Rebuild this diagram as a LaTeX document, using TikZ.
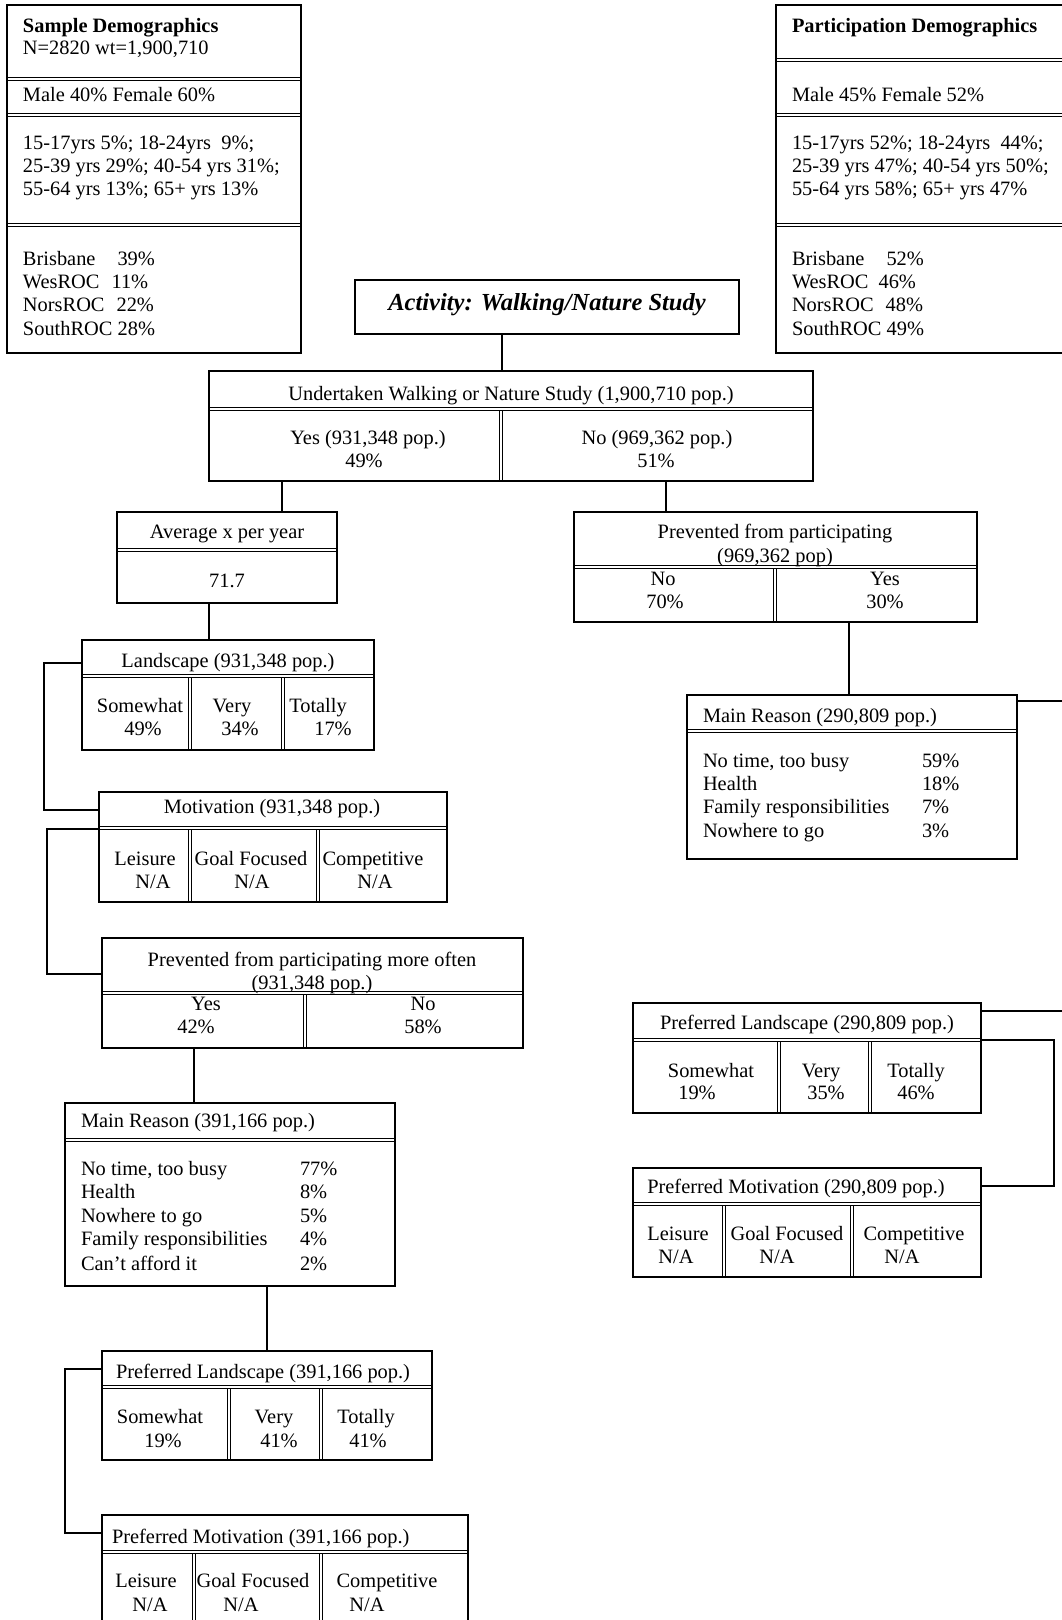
\documentclass[tikz,border=0pt]{standalone}
\usepackage{fontspec}
\setmainfont{Liberation Serif}
\newcommand\dblH[3]{\draw[dsep] (#1,#3) -- (#2,#3) (#1,#3+3.4) -- (#2,#3+3.4);}
\newcommand\dblV[3]{\draw[dsep] (#1,#2) -- (#1,#3) (#1+3.4,#2) -- (#1+3.4,#3);}
\newcommand\txtL[4]{\node[txt,anchor=base west] (#1) at (#2,#3) {#4};}
\newcommand\txtC[4]{\node[txt,anchor=base] (#1) at (#2,#3) {#4};}
\tikzset{
  box/.style={draw=black, line width=1.1pt, inner sep=0pt, outer sep=0pt, anchor=north west},
  dsep/.style={draw=black, line width=0.9pt},
  conn/.style={draw=black, line width=1.1pt},
  txt/.style={inner sep=0pt, outer sep=0pt, font=\fontsize{20.4}{23.5}\selectfont},
  ttl/.style={inner sep=0pt, outer sep=0pt, anchor=base, font=\fontsize{24.5}{28}\selectfont\bfseries\itshape}
}
\begin{document}
\begin{tikzpicture}[x=1pt,y=-1pt]
\useasboundingbox (0,0) rectangle (1062,1620);
\clip (0,0) rectangle (1062,1620);
\fill[white] (0,0) rectangle (1062,1620);

% ---------- boxes ----------
\node[box, minimum width=294pt, minimum height=348pt] (sd) at (7,5) {};
\node[box, minimum width=300pt, minimum height=348pt] (pd) at (776,5) {};
\node[box, minimum width=384pt, minimum height=54pt] (title) at (355,280) {};
\node[box, minimum width=604pt, minimum height=110pt] (und) at (209,371) {};
\node[box, minimum width=220pt, minimum height=91pt] (avg) at (117,512) {};
\node[box, minimum width=292pt, minimum height=110pt] (land) at (82,640) {};
\node[box, minimum width=348pt, minimum height=110pt] (mot) at (99,792) {};
\node[box, minimum width=421pt, minimum height=110pt] (pmo) at (102,938) {};
\node[box, minimum width=330pt, minimum height=183pt] (mr2) at (65,1103) {};
\node[box, minimum width=330pt, minimum height=109pt] (pl2) at (102,1351) {};
\node[box, minimum width=366pt, minimum height=115pt] (pm2) at (102,1515) {};
\node[box, minimum width=403pt, minimum height=110pt] (prv) at (574,512) {};
\node[box, minimum width=330pt, minimum height=164pt] (mr1) at (687,695) {};
\node[box, minimum width=348pt, minimum height=110pt] (pl1) at (633,1003) {};
\node[box, minimum width=348pt, minimum height=109pt] (pm1) at (633,1168) {};

% ---------- double separators ----------
\dblH{7}{301}{77} \dblH{7}{301}{113} \dblH{7}{301}{223}
\dblH{776}{1076}{58} \dblH{776}{1076}{113} \dblH{776}{1076}{223}
\dblH{209}{813}{407} \dblV{499}{410}{481}
\dblH{117}{337}{548}
\dblH{82}{374}{674} \dblV{188}{677}{750} \dblV{281}{677}{750}
\dblH{99}{447}{826} \dblV{188}{829}{902} \dblV{316}{829}{902}
\dblH{102}{523}{991} \dblV{303}{994}{1048}
\dblH{65}{395}{1138}
\dblH{102}{432}{1385} \dblV{227}{1388}{1460} \dblV{319}{1388}{1460}
\dblH{102}{468}{1550} \dblV{192}{1553}{1630} \dblV{319}{1553}{1630}
\dblH{574}{977}{565} \dblV{773}{568}{622}
\dblH{687}{1017}{729}
\dblH{633}{981}{1038} \dblV{777}{1041}{1113} \dblV{868}{1041}{1113}
\dblH{633}{981}{1202} \dblV{722}{1205}{1277} \dblV{850}{1205}{1277}

% ---------- Sample Demographics ----------
\txtL{s1}{23}{32}{\bfseries Sample Demographics}
\txtL{s2}{23}{54}{N=2820 wt=1,900,710}
\txtL{s3}{23}{101}{Male 40\% Female 60\%}
\txtL{s4}{23}{149}{15-17yrs 5\%; 18-24yrs\ \ 9\%;}
\txtL{s5}{23}{172}{25-39 yrs 29\%; 40-54 yrs 31\%;}
\txtL{s6}{23}{195}{55-64 yrs 13\%; 65+ yrs 13\%}
\txtL{s7}{23}{265}{Brisbane\hspace{22pt}39\%}
\txtL{s8}{23}{288}{WesROC\hspace{12pt}11\%}
\txtL{s9}{23}{311}{NorsROC\hspace{12pt}22\%}
\txtL{s10}{23}{335}{SouthROC 28\%}

% ---------- Participation Demographics ----------
\txtL{p1}{792}{32}{\bfseries Participation Demographics}
\txtL{p2}{792}{101}{Male 45\% Female 52\%}
\txtL{p3}{792}{149}{15-17yrs 52\%; 18-24yrs\ \ 44\%;}
\txtL{p4}{792}{172}{25-39 yrs 47\%; 40-54 yrs 50\%;}
\txtL{p5}{792}{195}{55-64 yrs 58\%; 65+ yrs 47\%}
\txtL{p6}{792}{265}{Brisbane\hspace{22pt}52\%}
\txtL{p7}{792}{288}{WesROC\hspace{10pt}46\%}
\txtL{p8}{792}{311}{NorsROC\hspace{12pt}48\%}
\txtL{p9}{792}{335}{SouthROC 49\%}

% ---------- title ----------
\node[ttl] (ttxt) at (547,310) {Activity: Walking/Nature Study};

% ---------- Undertaken ----------
\txtC{u0}{511}{400}{Undertaken Walking or Nature Study (1,900,710 pop.)}
\txtC{u1}{368}{444}{Yes (931,348 pop.)}
\txtC{u2}{364}{467}{49\%}
\txtC{u3}{657}{444}{No (969,362 pop.)}
\txtC{u4}{656}{467}{51\%}

% ---------- Average ----------
\txtC{a1}{227}{538}{Average x per year}
\txtC{a2}{227}{587}{71.7}

% ---------- Landscape ----------
\txtC{l0}{228}{667}{Landscape (931,348 pop.)}
\txtC{l1}{140}{712}{Somewhat}
\txtC{l2}{143}{735}{49\%}
\txtC{l3}{232}{712}{Very}
\txtC{l4}{240}{735}{34\%}
\txtC{l5}{318}{712}{Totally}
\txtC{l6}{333}{735}{17\%}

% ---------- Motivation ----------
\txtC{m0}{272}{813}{Motivation (931,348 pop.)}
\txtC{m1}{145}{865}{Leisure}
\txtC{m2}{153}{888}{N/A}
\txtC{m3}{251}{865}{Goal Focused}
\txtC{m4}{252}{888}{N/A}
\txtC{m5}{373}{865}{Competitive}
\txtC{m6}{375}{888}{N/A}

% ---------- Prevented more often ----------
\txtC{q0}{312}{966}{Prevented from participating more often}
\txtC{q1}{312}{989}{(931,348 pop.)}
\txtC{q2}{206}{1010}{Yes}
\txtC{q3}{196}{1033}{42\%}
\txtC{q4}{423}{1010}{No}
\txtC{q5}{423}{1033}{58\%}

% ---------- Main Reason (391,166) ----------
\txtL{r0}{81}{1127}{Main Reason (391,166 pop.)}
\txtL{r1}{81}{1175}{No time, too busy}
\txtL{r2}{81}{1198}{Health}
\txtL{r3}{81}{1222}{Nowhere to go}
\txtL{r4}{81}{1245}{Family responsibilities}
\txtL{r5}{81}{1270}{Can’t afford it}
\txtL{r6}{300}{1175}{77\%}
\txtL{r7}{300}{1198}{8\%}
\txtL{r8}{300}{1222}{5\%}
\txtL{r9}{300}{1245}{4\%}
\txtL{r10}{300}{1270}{2\%}

% ---------- Preferred Landscape (391,166) ----------
\txtC{g0}{263}{1378}{Preferred Landscape (391,166 pop.)}
\txtC{g1}{160}{1423}{Somewhat}
\txtC{g2}{163}{1447}{19\%}
\txtC{g3}{274}{1423}{Very}
\txtC{g4}{279}{1447}{41\%}
\txtC{g5}{366}{1423}{Totally}
\txtC{g6}{368}{1447}{41\%}

% ---------- Preferred Motivation (391,166) ----------
\txtL{h0}{112}{1543}{Preferred Motivation (391,166 pop.)}
\txtC{h1}{146}{1587}{Leisure}
\txtC{h2}{150}{1611}{N/A}
\txtC{h3}{253}{1587}{Goal Focused}
\txtC{h4}{241}{1611}{N/A}
\txtC{h5}{387}{1587}{Competitive}
\txtC{h6}{367}{1611}{N/A}

% ---------- Prevented (969,362) ----------
\txtC{v0}{775}{538}{Prevented from participating}
\txtC{v1}{775}{562}{(969,362 pop)}
\txtC{v2}{663}{585}{No}
\txtC{v3}{665}{608}{70\%}
\txtC{v4}{885}{585}{Yes}
\txtC{v5}{885}{608}{30\%}

% ---------- Main Reason (290,809) ----------
\txtL{w0}{703}{722}{Main Reason (290,809 pop.)}
\txtL{w1}{703}{767}{No time, too busy}
\txtL{w2}{703}{790}{Health}
\txtL{w3}{703}{813}{Family responsibilities}
\txtL{w4}{703}{837}{Nowhere to go}
\txtL{w5}{922}{767}{59\%}
\txtL{w6}{922}{790}{18\%}
\txtL{w7}{922}{813}{7\%}
\txtL{w8}{922}{837}{3\%}

% ---------- Preferred Landscape (290,809) ----------
\txtC{k0}{807}{1029}{Preferred Landscape (290,809 pop.)}
\txtC{k1}{711}{1077}{Somewhat}
\txtC{k2}{697}{1099}{19\%}
\txtC{k3}{821}{1077}{Very}
\txtC{k4}{826}{1099}{35\%}
\txtC{k5}{916}{1077}{Totally}
\txtC{k6}{916}{1099}{46\%}

% ---------- Preferred Motivation (290,809) ----------
\txtC{n0}{796}{1193}{Preferred Motivation (290,809 pop.)}
\txtC{n1}{678}{1240}{Leisure}
\txtC{n2}{676}{1263}{N/A}
\txtC{n3}{787}{1240}{Goal Focused}
\txtC{n4}{777}{1263}{N/A}
\txtC{n5}{914}{1240}{Competitive}
\txtC{n6}{902}{1263}{N/A}

% ---------- connectors ----------
\coordinate (x1) at (502,0);
\draw[conn] (title.south -| x1) -- (und.north -| x1);
\coordinate (x2) at (282,0);
\draw[conn] (und.south -| x2) -- (avg.north -| x2);
\coordinate (x3) at (666,0);
\draw[conn] (und.south -| x3) -- (prv.north -| x3);
\coordinate (x4) at (209,0);
\draw[conn] (avg.south -| x4) -- (land.north -| x4);
\coordinate (j1) at (44,663);
\coordinate (j2) at (44,810);
\draw[conn] (land.west |- j1) -- (j1) -- (j2) -- (mot.west |- j2);
\coordinate (j3) at (47,829);
\coordinate (j4) at (47,974);
\draw[conn] (mot.west |- j3) -- (j3) -- (j4) -- (pmo.west |- j4);
\coordinate (x5) at (194,0);
\draw[conn] (pmo.south -| x5) -- (mr2.north -| x5);
\coordinate (x6) at (267,0);
\draw[conn] (mr2.south -| x6) -- (pl2.north -| x6);
\coordinate (j5) at (65,1369);
\coordinate (j6) at (65,1533);
\draw[conn] (pl2.west |- j5) -- (j5) -- (j6) -- (pm2.west |- j6);
\coordinate (x7) at (849,0);
\draw[conn] (prv.south -| x7) -- (mr1.north -| x7);
\coordinate (e1) at (1070,701);
\draw[conn] (mr1.east |- e1) -- (e1);
\coordinate (e2) at (1070,1011);
\draw[conn] (pl1.east |- e2) -- (e2);
\coordinate (j7) at (1054,1040);
\coordinate (j8) at (1054,1186);
\draw[conn] (pl1.east |- j7) -- (j7) -- (j8) -- (pm1.east |- j8);
\end{tikzpicture}
\end{document}
